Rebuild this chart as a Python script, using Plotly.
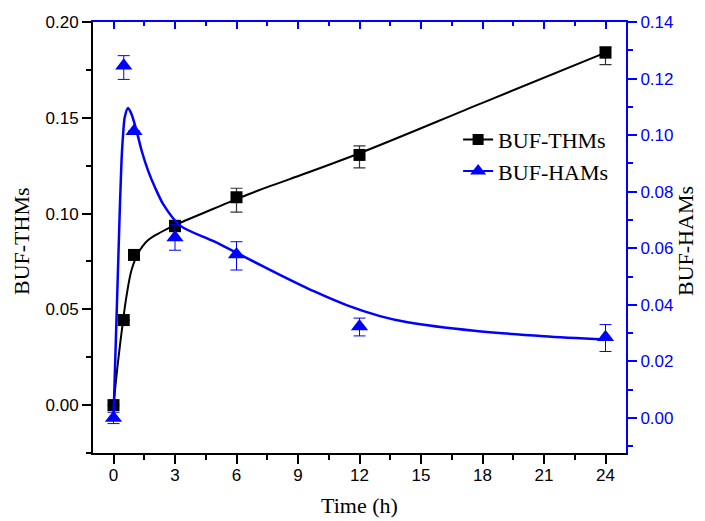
import plotly.graph_objects as go

# Measured data
time_h = [0, 0.5, 1, 3, 6, 12, 24]
thms = [0.0, 0.0444, 0.0784, 0.0935, 0.1085, 0.1306, 0.1840]
thms_err_plus = [0.0, 0.0, 0.0, 0.003, 0.0047, 0.0047, 0.003]
thms_err_minus = [0.0, 0.0, 0.0, 0.003, 0.0078, 0.0068, 0.0063]

hams = [0.0, 0.1245, 0.1014, 0.0638, 0.0578, 0.0323, 0.0285]
hams_err_plus = [0.002, 0.0036, 0.0, 0.0045, 0.0045, 0.003, 0.0045]
hams_err_minus = [0.002, 0.0048, 0.0, 0.0045, 0.0055, 0.0033, 0.0050]

# Fitted curves
thms_fit_t = [0, 0.23, 0.47, 0.63, 0.88, 1.2, 1.69, 2.35, 3.0, 4.88, 6.0, 7.3, 8.6, 12, 18, 24]
thms_fit_v = [0.0, 0.0235, 0.0444, 0.0566, 0.0705, 0.0793, 0.0862, 0.0905, 0.094,
              0.1025, 0.1075, 0.113, 0.118, 0.1315, 0.1578, 0.184]

hams_fit_t = [0, 0.3, 0.39, 0.47, 0.55, 0.71, 0.88, 1.13, 1.38, 1.70, 2.02, 2.43,
              3.25, 4.88, 6.51, 8.14, 9.77, 11.4, 13.0, 14.35, 17.6, 21, 24]
hams_fit_v = [0.0, 0.072, 0.0908, 0.1004, 0.1064, 0.1096, 0.1074, 0.1014, 0.0943,
              0.0872, 0.0816, 0.0755, 0.068, 0.0625, 0.0565, 0.0505, 0.0448, 0.0398,
              0.036, 0.0338, 0.0308, 0.0289, 0.0277]

x_ticks = [0, 3, 6, 9, 12, 15, 18, 21, 24]

BLUE = "#0000ff"
BLACK = "#000000"
SERIF = "Liberation Serif, Times New Roman, serif"
SANS = "Liberation Sans, Arial, sans-serif"

fig = go.Figure()

# fit curves
fig.add_trace(go.Scatter(x=thms_fit_t, y=thms_fit_v, mode="lines", line=dict(color=BLACK, width=2, shape="spline"),
                         showlegend=False, hoverinfo="skip"))
fig.add_trace(go.Scatter(x=hams_fit_t, y=hams_fit_v, mode="lines", xaxis="x2", yaxis="y2",
                         line=dict(color=BLUE, width=2.5, shape="spline", smoothing=0.8),
                         showlegend=False, hoverinfo="skip"))

# data points with error bars
fig.add_trace(go.Scatter(x=time_h, y=thms, mode="markers",
                         marker=dict(symbol="square", size=12, color=BLACK),
                         error_y=dict(type="data", array=thms_err_plus, arrayminus=thms_err_minus,
                                      color="#333333", thickness=1.2, width=6),
                         showlegend=False))
fig.add_trace(go.Scatter(x=time_h, y=hams, mode="markers", xaxis="x2", yaxis="y2",
                         marker=dict(symbol="triangle-up", size=15, color=BLUE),
                         error_y=dict(type="data", array=hams_err_plus, arrayminus=hams_err_minus,
                                      color=BLUE, thickness=1, width=6),
                         showlegend=False))

# legend entries
fig.add_trace(go.Scatter(x=[None], y=[None], mode="lines+markers", name="BUF-THMs",
                         line=dict(color=BLACK, width=2), marker=dict(symbol="square", size=11, color=BLACK)))
fig.add_trace(go.Scatter(x=[None], y=[None], mode="lines+markers", name="BUF-HAMs", xaxis="x2", yaxis="y2",
                         line=dict(color=BLUE, width=2), marker=dict(symbol="triangle-up", size=14, color=BLUE)))

# page body adds an 8px offset, so the figure is 8px smaller and margins shifted
fig.update_layout(
    width=697, height=513,
    margin=dict(l=85, r=79, t=14, b=68, autoexpand=False),
    paper_bgcolor="white", plot_bgcolor="white",
    showlegend=True,
    legend=dict(x=0.685, y=0.69, xanchor="left", yanchor="middle",
                font=dict(family=SERIF, size=22, color=BLACK),
                bgcolor="rgba(0,0,0,0)", itemwidth=30, tracegroupgap=0),
    xaxis=dict(range=[-1, 25], tickvals=x_ticks, ticktext=[str(v) for v in x_ticks],
               showgrid=False, zeroline=False, automargin=False,
               showline=True, linecolor=BLACK, linewidth=2,
               ticks="outside", ticklen=9, tickwidth=1.5, tickcolor=BLACK, ticklabelstandoff=-3,
               minor=dict(dtick=1.5, tick0=0, ticks="outside", ticklen=5, tickwidth=1.5, tickcolor=BLACK),
               tickfont=dict(family=SANS, size=17, color=BLACK)),
    xaxis2=dict(overlaying="x", side="top", anchor="y2", range=[-1, 25], tickvals=x_ticks,
                showticklabels=False, showgrid=False, zeroline=False, automargin=False,
                showline=True, linecolor=BLUE, linewidth=2,
                ticks="inside", ticklen=7, tickwidth=1.5, tickcolor=BLUE,
                minor=dict(dtick=1.5, tick0=0, ticks="inside", ticklen=4, tickwidth=1.5, tickcolor=BLUE)),
    yaxis=dict(range=[-0.025, 0.2], tick0=0, dtick=0.05, tickformat=".2f",
               showgrid=False, zeroline=False, automargin=False,
               showline=True, linecolor=BLACK, linewidth=2,
               ticks="outside", ticklen=9, tickwidth=1.5, tickcolor=BLACK,
               minor=dict(dtick=0.025, tick0=0, ticks="outside", ticklen=5, tickwidth=1.5, tickcolor=BLACK),
               tickfont=dict(family=SANS, size=17, color=BLACK)),
    yaxis2=dict(overlaying="y", side="right", anchor="x2", range=[-0.0124, 0.14], tick0=0, dtick=0.02,
                tickformat=".2f", showgrid=False, zeroline=False, automargin=False,
                showline=True, linecolor=BLUE, linewidth=2,
                ticks="outside", ticklen=9, tickwidth=1.5, tickcolor=BLUE,
                minor=dict(dtick=0.01, tick0=0, ticks="outside", ticklen=5, tickwidth=1.5, tickcolor=BLUE),
                tickfont=dict(family=SANS, size=17, color=BLUE)),
    annotations=[
        dict(text="BUF-THMs", xref="paper", yref="paper", x=(22 - 93) / 533, y=1 - (241 - 22) / 431,
             textangle=-90, showarrow=False, xanchor="center", yanchor="middle",
             font=dict(family=SERIF, size=22, color=BLACK)),
        dict(text="BUF-HAMs", xref="paper", yref="paper", x=(686 - 93) / 533, y=1 - (241 - 22) / 431,
             textangle=-90, showarrow=False, xanchor="center", yanchor="middle",
             font=dict(family=SERIF, size=22, color=BLACK)),
        dict(text="Time (h)", xref="paper", yref="paper", x=(359 - 93) / 533, y=1 - (505 - 22) / 431,
             showarrow=False, xanchor="center", yanchor="middle",
             font=dict(family=SERIF, size=22, color=BLACK)),
    ],
)

fig.write_html("out.html")
